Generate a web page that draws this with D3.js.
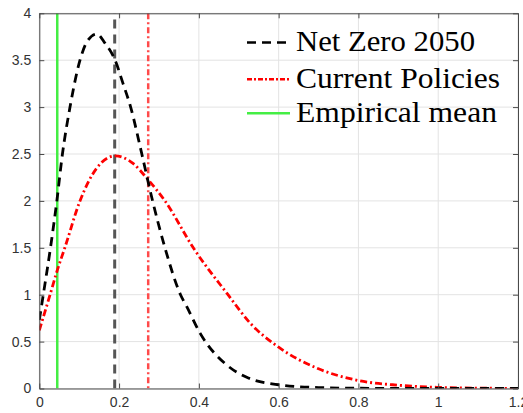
<!DOCTYPE html>
<html><head><meta charset="utf-8">
<script src="https://cdn.jsdelivr.net/npm/d3@7"></script>
<style>body{margin:0;background:#fff}svg{display:block}</style>
</head><body>
<script>
// Data
const netZeroX = [0,0.01,0.028,0.044,0.058,0.077,0.102,0.12,0.144,0.165,0.19,0.21,0.229,0.257,0.284,0.315,0.354,0.37,0.403,0.47,0.52,0.6,0.7,0.8,1.0,1.2];
const netZeroY = [0.73,1.0,1.5,2.0,2.5,3.0,3.5,3.70,3.78,3.68,3.5,3.25,3.0,2.5,2.0,1.5,1.0,0.87,0.59,0.25,0.12,0.04,0.01,0.003,0,0];
const currentX = [0,0.027,0.045,0.064,0.102,0.144,0.19,0.235,0.27,0.315,0.386,0.473,0.528,0.6,0.7,0.8,0.9,1.0,1.1,1.2];
const currentY = [0.62,1.0,1.26,1.5,2.0,2.35,2.48,2.40,2.24,2.0,1.5,1.0,0.70,0.44,0.21,0.085,0.035,0.012,0.004,0.001];
const netZeroMean = 0.189;
const currentMean = 0.273;
const empiricalMean = 0.045;
const seriesNames = ["Net Zero 2050","Current Policies","Empirical mean"];
const xTicks = [0,0.2,0.4,0.6,0.8,1,1.2];
const yTicks = [0,0.5,1,1.5,2,2.5,3,3.5,4];

const W=523,H=413;
const m={l:39.3,r:W-518,t:13.3,b:H-388.5};
const svg=d3.select("body").append("svg").attr("width",W).attr("height",H);
const x=d3.scaleLinear().domain([0,1.2]).range([m.l,W-m.r]);
const y=d3.scaleLinear().domain([0,4]).range([H-m.b,m.t]);
const axisCol="#4a4a4a";

// grid
svg.append("g").selectAll("line").data(xTicks).join("line")
  .attr("x1",d=>x(d)).attr("x2",d=>x(d)).attr("y1",y(0)).attr("y2",y(4))
  .attr("stroke","#e3e3e3").attr("stroke-width",1);
svg.append("g").selectAll("line").data(yTicks).join("line")
  .attr("y1",d=>y(d)).attr("y2",d=>y(d)).attr("x1",x(0)).attr("x2",x(1.2))
  .attr("stroke","#e3e3e3").attr("stroke-width",1);

svg.append("clipPath").attr("id","c").append("rect")
  .attr("x",x(0)).attr("y",y(4)).attr("width",x(1.2)-x(0)).attr("height",y(0)-y(4));
const plot=svg.append("g").attr("clip-path","url(#c)");

const line=d3.line().x(d=>x(d[0])).y(d=>y(d[1])).curve(d3.curveMonotoneX);
const nz=netZeroX.map((v,i)=>[v,netZeroY[i]]);
const cp=currentX.map((v,i)=>[v,currentY[i]]);

// vertical lines
plot.append("line").attr("x1",x(empiricalMean)).attr("x2",x(empiricalMean)).attr("y1",y(0)).attr("y2",y(4))
  .attr("stroke","#44ee44").attr("stroke-width",2.5);
plot.append("line").attr("x1",x(netZeroMean)).attr("x2",x(netZeroMean)).attr("y1",y(0)).attr("y2",y(4))
  .attr("stroke","#555").attr("stroke-width",3).attr("stroke-dasharray","9,6");
plot.append("line").attr("x1",x(currentMean)).attr("x2",x(currentMean)).attr("y1",y(4)).attr("y2",y(0))
  .attr("stroke","#ff4a4a").attr("stroke-width",2.5).attr("stroke-dasharray","6,3,2,3");

plot.append("path").attr("d",line(cp)).attr("fill","none").attr("stroke","#ff0000")
  .attr("stroke-width",2.8).attr("stroke-dasharray","7,3,2,3");
plot.append("path").attr("d",line(nz)).attr("fill","none").attr("stroke","#000")
  .attr("stroke-width",2.8).attr("stroke-dasharray","9,6");

// axes
const fmt=d=>String(d);
svg.append("g").attr("transform",`translate(0,${y(0)})`)
  .call(d3.axisBottom(x).tickValues(xTicks).tickFormat(fmt).tickSizeInner(-5).tickSizeOuter(0).tickPadding(9))
  .call(g=>{g.select(".domain").attr("stroke",axisCol);g.selectAll(".tick line").attr("stroke",axisCol);
    g.selectAll("text").attr("font-family","Liberation Sans, Arial, sans-serif").attr("font-size",14).attr("fill","#333");});
svg.append("g").attr("transform",`translate(${x(0)},0)`)
  .call(d3.axisLeft(y).tickValues(yTicks).tickFormat(fmt).tickSizeInner(-5).tickSizeOuter(0).tickPadding(8))
  .call(g=>{g.select(".domain").attr("stroke",axisCol);g.selectAll(".tick line").attr("stroke",axisCol);
    g.selectAll("text").attr("font-family","Liberation Sans, Arial, sans-serif").attr("font-size",14).attr("fill","#333");});
svg.append("g").attr("transform",`translate(0,${y(4)})`)
  .call(d3.axisTop(x).tickValues(xTicks).tickFormat("").tickSizeInner(-5).tickSizeOuter(0))
  .call(g=>{g.select(".domain").attr("stroke",axisCol);g.selectAll(".tick line").attr("stroke",axisCol);});
svg.append("g").attr("transform",`translate(${x(1.2)},0)`)
  .call(d3.axisRight(y).tickValues(yTicks).tickFormat("").tickSizeInner(-5).tickSizeOuter(0))
  .call(g=>{g.select(".domain").attr("stroke",axisCol);g.selectAll(".tick line").attr("stroke",axisCol);});

// legend
const leg=[{n:seriesNames[0],c:"#000",d:"9,6",w:179},{n:seriesNames[1],c:"#ff0000",d:"5,2,2,2",w:204},{n:seriesNames[2],c:"#44ee44",d:null,w:201}];
const baseY=[51,87.7,121.7];
leg.forEach((L,i)=>{
  const l=svg.append("line").attr("x1",247).attr("x2",290).attr("y1",baseY[i]-8.5).attr("y2",baseY[i]-8.5)
    .attr("stroke",L.c).attr("stroke-width",2.5);
  if(L.d) l.attr("stroke-dasharray",L.d);
  svg.append("text").attr("x",296).attr("y",baseY[i])
    .attr("font-family","Liberation Serif, Times New Roman, serif").attr("font-size",29).attr("fill","#000")
    .attr("textLength",L.w).attr("lengthAdjust","spacingAndGlyphs")
    .text(L.n);
});
</script>
</body></html>
